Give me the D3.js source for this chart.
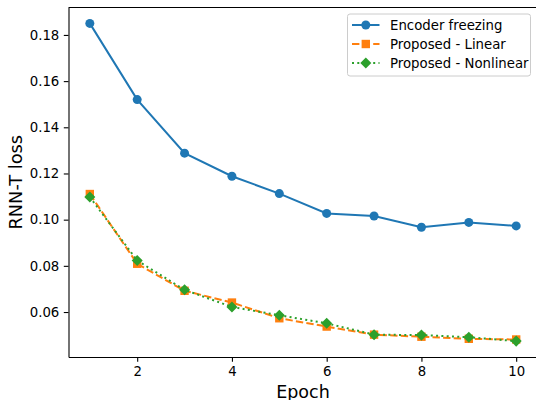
<!DOCTYPE html>
<html>
<head>
<meta charset="utf-8">
<script src="https://cdn.jsdelivr.net/npm/d3@7"></script>
<style>
  body { margin: 0; background: #fff; }
  #chart { width: 536px; height: 400px; }
  text { font-family: "DejaVu Sans", sans-serif; }
</style>
</head>
<body>
<div id="chart"></div>
<script>
// values
const epochs = [1, 2, 3, 4, 5, 6, 7, 8, 9, 10];
const encoderFreezing = [0.185, 0.152, 0.1288, 0.1188, 0.1113, 0.1027, 0.1016, 0.0967, 0.0988, 0.0973];
const proposedLinear = [0.1111, 0.0809, 0.0692, 0.0641, 0.0573, 0.0537, 0.0502, 0.0493, 0.0484, 0.0481];
const proposedNonlinear = [0.1098, 0.0823, 0.0696, 0.0622, 0.0586, 0.0551, 0.0502, 0.0500, 0.0491, 0.0474];
const xTicks = [2, 4, 6, 8, 10];
const yTicks = [0.06, 0.08, 0.10, 0.12, 0.14, 0.16, 0.18];

const series = [
    { name: "Encoder freezing", values: encoderFreezing, color: "#1f77b4", dash: null, marker: "circle" },
    { name: "Proposed - Linear", values: proposedLinear, color: "#ff7f0e", dash: "7.4,3.2", marker: "square" },
    { name: "Proposed - Nonlinear", values: proposedNonlinear, color: "#2ca02c", dash: "2,3.3", marker: "diamond" }
];

const width = 536, height = 400;
const margin = { top: 7.5, right: -1.5, bottom: 43, left: 68.5 };
const innerW = width - margin.left - margin.right;
const innerH = height - margin.top - margin.bottom;

const svg = d3.select("#chart").append("svg")
    .attr("width", width)
    .attr("height", height);

const g = svg.append("g")
    .attr("transform", `translate(${margin.left},${margin.top})`);

// matplotlib style 5% padding around the data
const allY = encoderFreezing.concat(proposedLinear, proposedNonlinear);
const yMin = d3.min(allY), yMax = d3.max(allY);
const yPad = (yMax - yMin) * 0.05;
const x = d3.scaleLinear().domain([0.55, 10.45]).range([0, innerW]);
const y = d3.scaleLinear().domain([yMin - yPad, yMax + yPad]).range([innerH, 0]);

const xAxis = g.append("g")
    .attr("transform", `translate(0,${innerH})`)
    .call(d3.axisBottom(x).tickValues(xTicks).tickSizeInner(4.7).tickSizeOuter(0)
        .tickPadding(4.5).tickFormat(d3.format("d")));

const yAxis = g.append("g")
    .call(d3.axisLeft(y).tickValues(yTicks).tickSizeInner(4.7).tickSizeOuter(0)
        .tickPadding(4.5).tickFormat(d3.format(".2f")));

[xAxis, yAxis].forEach(a => {
    a.select(".domain").attr("stroke", "#000").attr("stroke-width", 1.1);
    a.selectAll(".tick line").attr("stroke", "#000").attr("stroke-width", 1.1);
    a.selectAll(".tick text").attr("fill", "#000").style("font-size", "13.3px")
        .style("font-family", "DejaVu Sans");
});

// top spine (right spine falls outside the picture)
g.append("line")
    .attr("x1", 0).attr("x2", innerW)
    .attr("y1", 0).attr("y2", 0)
    .attr("stroke", "#000").attr("stroke-width", 1.1);

const symbols = {
    circle: { d: d3.symbol().type(d3.symbolCircle).size(Math.PI * 4.5 * 4.5)(), rot: 0 },
    square: { d: d3.symbol().type(d3.symbolSquare).size(8.4 * 8.4)(), rot: 0 },
    diamond: { d: d3.symbol().type(d3.symbolSquare).size(7.8 * 7.8)(), rot: 45 }
};

const line = d3.line()
    .x((d, i) => x(epochs[i]))
    .y(d => y(d));

series.forEach(s => {
    g.append("path")
        .datum(s.values)
        .attr("fill", "none")
        .attr("stroke", s.color)
        .attr("stroke-width", 2)
        .attr("stroke-dasharray", s.dash)
        .attr("d", line);

    g.selectAll(null)
        .data(s.values)
        .enter().append("path")
        .attr("transform", (d, i) => `translate(${x(epochs[i])},${y(d)}) rotate(${symbols[s.marker].rot})`)
        .attr("d", symbols[s.marker].d)
        .attr("fill", s.color);
});

// axis labels
svg.append("text")
    .attr("text-anchor", "middle")
    .attr("x", margin.left + innerW / 2)
    .attr("y", 397.5)
    .style("font-size", "17.5px")
    .text("Epoch");

svg.append("text")
    .attr("text-anchor", "middle")
    .attr("transform", "rotate(-90)")
    .attr("x", -(margin.top + innerH / 2))
    .attr("y", 22)
    .style("font-size", "17.8px")
    .text("RNN-T loss");

// legend
const legend = svg.append("g").attr("transform", "translate(347.5,14)");
legend.append("rect")
    .attr("width", 183).attr("height", 62)
    .attr("rx", 2.5)
    .attr("fill", "#fff").attr("fill-opacity", 0.8)
    .attr("stroke", "#ccc").attr("stroke-width", 1);

series.forEach((s, i) => {
    const row = legend.append("g").attr("transform", `translate(0,${11 + i * 19})`);
    row.append("line")
        .attr("x1", 4.5).attr("x2", 32)
        .attr("stroke", s.color).attr("stroke-width", 2)
        .attr("stroke-dasharray", s.dash);
    row.append("path")
        .attr("transform", `translate(18.3,0) rotate(${symbols[s.marker].rot})`)
        .attr("d", symbols[s.marker].d)
        .attr("fill", s.color);
    row.append("text")
        .attr("x", 42.5)
        .attr("dy", "0.35em")
        .style("font-size", "13.3px")
        .text(s.name);
});
</script>
</body>
</html>
